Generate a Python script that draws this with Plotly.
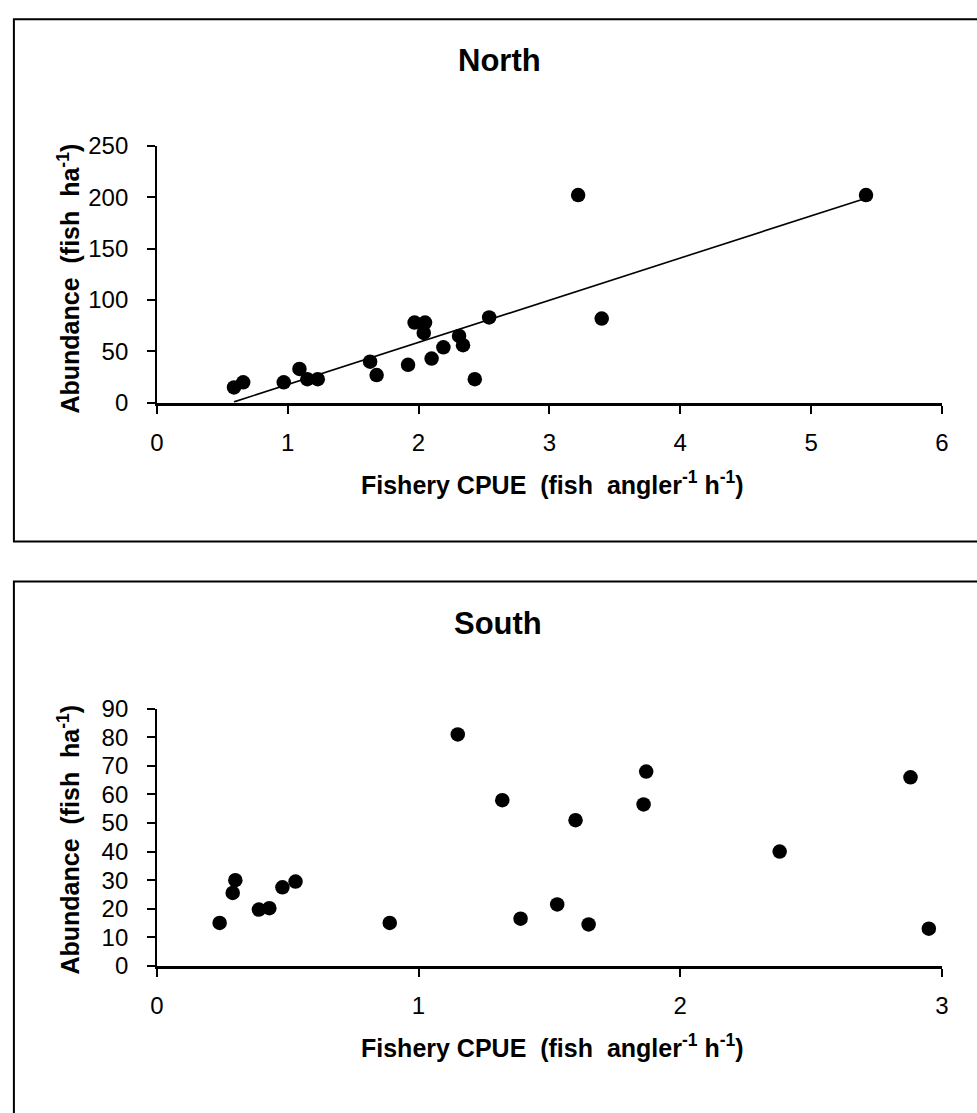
import numpy as np
import plotly.graph_objects as go

W, H = 977, 1113
FONT = "Liberation Sans, Arial, sans-serif"

# ---- data ----
north_cpue = [0.59, 0.66, 0.97, 1.09, 1.15, 1.23, 1.63, 1.68, 1.92, 1.97, 2.05,
              2.04, 2.10, 2.19, 2.31, 2.34, 2.43, 2.54, 3.22, 3.40, 5.42]
north_abund = [15, 20, 20, 33, 23, 23, 40, 27, 37, 78, 78,
               68, 43, 54, 65, 56, 23, 83, 202, 82, 202]

south_cpue = [0.24, 0.30, 0.29, 0.39, 0.43, 0.48, 0.53, 0.89, 1.15, 1.32, 1.39,
              1.53, 1.60, 1.65, 1.86, 1.87, 2.38, 2.88, 2.95]
south_abund = [15, 30, 25.5, 19.7, 20.2, 27.5, 29.5, 15, 81, 58, 16.5,
               21.5, 51, 14.5, 56.5, 68, 40, 66, 13]

north_xticks = [0, 1, 2, 3, 4, 5, 6]
north_yticks = [0, 50, 100, 150, 200, 250]
south_xticks = [0, 1, 2, 3]
south_yticks = [0, 10, 20, 30, 40, 50, 60, 70, 80, 90]

# regression line for North (OLS fit over the data range)
slope, intercept = np.polyfit(north_cpue, north_abund, 1)
fit_x = [min(north_cpue), max(north_cpue)]
fit_y = [slope * v + intercept for v in fit_x]

fig = go.Figure()
fig.add_trace(go.Scatter(x=fit_x, y=fit_y, mode="lines",
                         line=dict(color="black", width=1.6),
                         xaxis="x", yaxis="y", showlegend=False))
fig.add_trace(go.Scatter(x=north_cpue, y=north_abund, mode="markers",
                         marker=dict(color="black", size=14.5),
                         xaxis="x", yaxis="y", showlegend=False))
fig.add_trace(go.Scatter(x=south_cpue, y=south_abund, mode="markers",
                         marker=dict(color="black", size=14.5),
                         xaxis="x2", yaxis="y2", showlegend=False))

def px_x(p):
    return p / W

def px_y(p):
    return 1 - p / H

tickfont = dict(family=FONT, size=24, color="black")
common_x = dict(showgrid=False, zeroline=False, showline=True, linecolor="black",
                linewidth=3, ticks="outside", ticklen=8, tickwidth=1.5,
                tickcolor="black", tickfont=tickfont, ticklabelstandoff=8)
common_y = dict(showgrid=False, zeroline=False, showline=True, linecolor="black",
                linewidth=1.5, ticks="outside", ticklen=8, tickwidth=1.5,
                tickcolor="black", tickfont=tickfont, ticklabelstandoff=14)

fig.update_layout(
    width=W, height=H,
    margin=dict(l=0, r=0, t=0, b=0),
    paper_bgcolor="white", plot_bgcolor="white",
    xaxis=dict(domain=[px_x(152), px_x(948.5)], range=[0, 6], anchor="y",
               tickvals=north_xticks, **common_x),
    yaxis=dict(domain=[px_y(398.5), px_y(135)], range=[0, 250], anchor="x",
               tickvals=north_yticks, **common_y),
    xaxis2=dict(domain=[px_x(152), px_x(948.5)], range=[0, 3], anchor="y2",
                tickvals=south_xticks, **common_x),
    yaxis2=dict(domain=[px_y(975.5), px_y(712)], range=[0, 90], anchor="x2",
                tickvals=south_yticks, **common_y),
)

# frames around each chart
fig.add_shape(type="rect", xref="paper", yref="paper",
              x0=px_x(7), x1=px_x(990), y0=px_y(540.5), y1=px_y(5.5),
              line=dict(color="black", width=2), fillcolor="rgba(0,0,0,0)")
fig.add_shape(type="rect", xref="paper", yref="paper",
              x0=px_x(7), x1=px_x(990), y0=px_y(1130), y1=px_y(581.5),
              line=dict(color="black", width=2), fillcolor="rgba(0,0,0,0)")

nb = "\u00a0"
xtitle = f"Fishery CPUE{nb} (fish{nb} angler<sup>-1</sup> h<sup>-1</sup>)"
ytitle = f"Abundance{nb} (fish{nb} ha<sup>-1</sup>)"

def ann(text, x, y, size, angle=0):
    fig.add_annotation(text=text, xref="paper", yref="paper",
                       x=px_x(x), y=px_y(y), xanchor="center", yanchor="middle",
                       showarrow=False, textangle=angle,
                       font=dict(family=FONT, size=size, color="black"))

ann("<b>North</b>", 500, 48, 31)
ann("<b>South</b>", 498, 625, 31)
ann(f"<b>{xtitle}</b>", 553, 481, 25)
ann(f"<b>{xtitle}</b>", 553, 1058, 25)
ann(f"<b>{ytitle}</b>", 63, 271, 25, -90)
ann(f"<b>{ytitle}</b>", 63, 846, 25, -90)

fig.write_html("out.html",
               config={"displayModeBar": False},
               post_script="document.body.style.margin='0';"
                           "document.body.style.overflow='hidden';")
